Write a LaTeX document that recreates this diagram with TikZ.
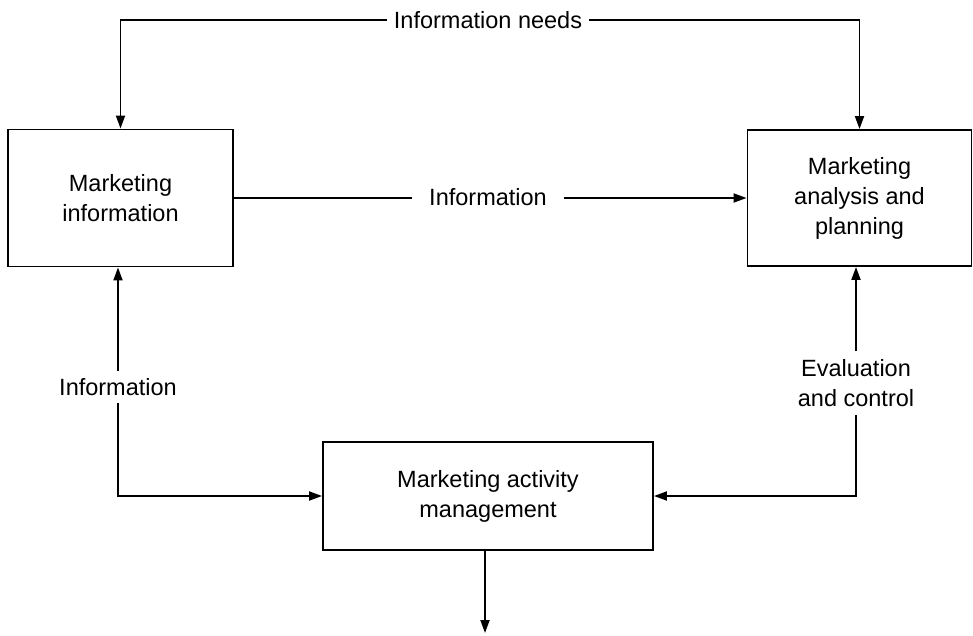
\documentclass[tikz,border=0pt]{standalone}
\usepackage{fontspec}
\setmainfont{Liberation Sans}
\usetikzlibrary{arrows.meta}
\begin{document}
\begin{tikzpicture}[x=1pt,y=-1pt,
  line width=1.9pt,
  font=\fontsize{23.5}{30}\selectfont,
  box/.style={draw, align=center, inner sep=0pt},
  lbl/.style={align=center, inner sep=0pt},
  flow/.style={-{Triangle[length=13pt,width=9pt]}}]
\useasboundingbox (0,0) rectangle (973,636);

% the three activity boxes
\node[box, minimum width=225pt, minimum height=137pt] (mi) at (120.5,198)
  {Marketing\\information};
\node[box, minimum width=224pt, minimum height=136pt] (map) at (859.5,198)
  {Marketing\\analysis and\\planning};
\node[box, minimum width=330pt, minimum height=108pt] (mam) at (488,496)
  {Marketing activity\\management};

% labels that interrupt the connectors
\node[lbl, minimum width=200pt, minimum height=20pt] (needs) at (488,20) {Information needs};
\node[lbl, minimum width=150pt, minimum height=20pt] (info) at (488,197) {Information};
\node[lbl, minimum height=30pt] (linfo) at (118,387) {Information};
\node[lbl, minimum height=62pt] (eval) at (856,383) {Evaluation\\and control};
\coordinate (out) at (485,633);

% connectors
\draw[flow] (needs.west) -| (mi.north);
\draw[flow] (needs.east) -| (map.north);
\draw (mi.east) -- (mi.east -| info.west);
\draw[flow] (info.east |- map.west) -- (map.west);
\draw[flow] (linfo.north) -- (linfo.north |- mi.south);
\draw[flow] (linfo.south) |- (mam.west);
\draw[flow] (eval.north) -- (eval.north |- map.south);
\draw[flow] (eval.south) |- (mam.east);
\draw[flow] (out |- mam.south) -- (out);
\end{tikzpicture}
\end{document}
